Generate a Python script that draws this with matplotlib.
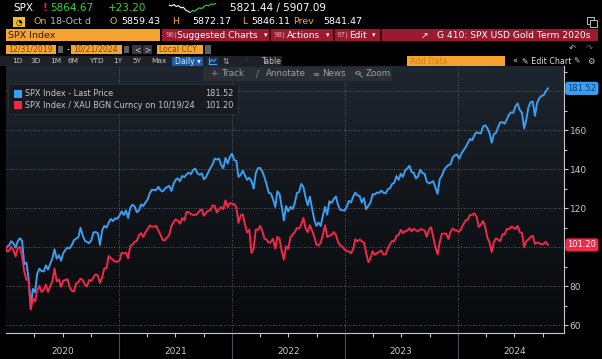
import matplotlib
matplotlib.use("Agg")
import matplotlib.pyplot as plt
import matplotlib.dates as mdates
from matplotlib.patches import Rectangle, Circle
from matplotlib.colors import LinearSegmentedColormap
from matplotlib.transforms import blended_transform_factory
import numpy as np
import pandas as pd

# weekly closes, rebased to 100 on 12/31/2019
spx = [100.0,
       100.1, 101.1, 103.1, 102.0, 99.8, 103.0, 104.6, 103.3, 91.4, 92.0, 83.9, 69.5, 78.6,
       77.0, 86.4, 89.0, 87.8, 87.6, 90.7, 88.6, 91.5, 94.2, 98.9, 94.1, 95.9, 93.1,
       96.9, 98.6, 99.8, 99.5, 101.2, 103.7, 104.4, 105.1, 110.0, 106.1, 103.4, 102.7, 102.1,
       103.6, 107.6, 107.8, 107.2, 101.2, 108.6, 111.0, 110.1, 112.6, 114.5, 113.4, 114.8, 114.6, 116.3,
       118.4, 116.6, 118.9, 115.0, 120.3, 121.8, 120.9, 118.0, 118.9, 122.0, 121.1, 123.0,
       124.4, 127.8, 129.5, 129.4, 129.4, 131.0, 129.2, 128.6, 130.1, 130.9, 131.5, 128.9, 132.5,
       134.7, 135.3, 133.9, 136.6, 136.0, 137.3, 138.3, 137.5, 139.6, 140.4, 138.0, 137.2, 137.9,
       134.9, 135.9, 138.4, 140.7, 142.5, 145.4, 145.0, 145.4, 142.2, 140.5, 145.8, 143.0, 146.3, 148.0,
       144.8, 144.3, 136.1, 137.2, 139.3, 136.8, 134.6, 135.7, 134.0, 130.1, 138.1, 140.6,
       140.7, 138.9, 136.0, 132.2, 127.9, 127.6, 124.5, 120.7, 128.7, 127.2, 120.7, 113.7, 121.1,
       118.4, 120.7, 119.6, 122.6, 127.8, 128.3, 132.5, 130.9, 125.6, 121.5, 125.9, 119.9, 114.3, 111.0,
       112.7, 110.9, 116.2, 120.7, 116.7, 123.6, 122.7, 124.6, 126.0, 121.8, 119.2, 119.0, 118.8,
       120.6, 123.8, 123.0, 126.0, 128.0, 126.6, 126.3, 122.9, 125.2, 119.5, 121.2, 122.9, 127.2,
       127.1, 128.1, 127.9, 129.0, 128.0, 127.6, 129.8, 130.2, 132.5, 133.1, 136.5, 134.6, 137.7,
       136.2, 139.4, 140.4, 141.8, 138.6, 138.2, 135.3, 136.4, 139.8, 138.0, 137.7, 133.7, 132.7,
       133.3, 133.9, 130.7, 127.4, 134.9, 136.7, 139.7, 141.1, 142.2, 142.5, 146.1, 147.2, 147.6,
       145.4, 148.1, 149.8, 151.4, 153.5, 155.6, 154.9, 157.5, 159.0, 158.6, 158.4, 162.0, 162.6,
       161.1, 158.6, 153.7, 157.9, 158.7, 161.7, 164.1, 164.2, 163.4, 165.5, 168.1, 169.2, 169.0,
       172.3, 173.8, 170.4, 169.0, 161.0, 165.4, 171.9, 174.4, 174.8, 167.4, 174.1, 176.5, 177.6,
       178.0, 180.0, 181.52]

spx_xau = [100.0,
           97.8, 98.2, 100.4, 98.5, 95.3, 99.5, 100.2, 95.4, 87.5, 83.4, 83.2, 68.0, 73.7,
           72.1, 77.9, 80.2, 77.1, 78.2, 80.8, 77.1, 80.0, 82.6, 89.1, 82.5, 83.5, 79.7,
           82.8, 83.2, 83.6, 79.4, 77.7, 77.3, 81.5, 82.2, 83.9, 83.2, 80.9, 79.9, 83.2,
           82.7, 84.6, 86.1, 85.5, 81.7, 84.4, 89.2, 89.3, 95.5, 94.5, 93.5, 92.6, 92.6, 93.1,
           97.1, 96.8, 97.2, 94.4, 100.7, 101.3, 102.8, 103.2, 106.2, 107.2, 105.3, 107.7,
           109.2, 111.2, 110.6, 110.5, 111.0, 108.5, 106.3, 103.7, 103.6, 105.0, 106.3, 110.9, 112.9,
           114.3, 113.5, 112.1, 115.0, 113.7, 118.1, 117.9, 117.1, 116.5, 116.6, 117.1, 118.7, 119.5,
           116.2, 117.7, 118.7, 119.0, 121.4, 121.3, 117.9, 119.5, 120.6, 119.5, 124.0, 120.6, 122.7, 122.3,
           122.2, 120.5, 112.5, 116.2, 116.9, 111.6, 107.6, 109.0, 97.0, 99.4, 109.1, 108.9,
           110.9, 108.3, 104.5, 103.9, 102.3, 102.8, 104.3, 99.2, 105.4, 104.3, 97.9, 93.7, 100.5,
           99.2, 105.1, 106.5, 107.7, 109.8, 109.6, 111.6, 115.0, 109.7, 107.7, 111.3, 108.6, 105.4, 101.4,
           100.9, 102.3, 106.4, 111.3, 105.3, 105.9, 106.3, 107.8, 106.4, 102.8, 100.9, 100.4, 98.8,
           98.1, 97.8, 96.9, 99.1, 104.1, 103.0, 104.0, 103.0, 102.3, 97.1, 92.4, 94.3, 98.0,
           96.1, 97.0, 97.6, 98.3, 96.3, 96.3, 99.3, 101.5, 103.2, 103.0, 105.8, 106.3, 108.9,
           107.3, 108.2, 108.6, 109.8, 108.2, 109.5, 108.7, 108.1, 109.3, 109.1, 108.6, 105.4, 108.9,
           110.3, 105.1, 100.1, 96.3, 102.7, 106.9, 107.0, 107.0, 104.2, 107.9, 109.7, 108.7, 108.5,
           107.9, 109.7, 112.0, 113.8, 114.2, 116.6, 116.7, 117.4, 115.8, 110.4, 111.5, 113.5, 110.6,
           104.9, 102.6, 97.5, 102.5, 104.6, 103.9, 103.1, 106.7, 106.5, 109.4, 109.3, 110.5, 110.2,
           109.3, 111.0, 107.7, 107.4, 100.0, 103.2, 104.0, 105.3, 105.9, 101.7, 102.4, 102.1, 101.4,
           101.8, 102.8, 101.20]

dates = [pd.Timestamp("2019-12-31")] + list(pd.date_range("2020-01-03", "2024-10-18", freq="W-FRI"))
years = [2020, 2021, 2022, 2023, 2024]
ytick_vals = [60, 80, 100, 120, 140, 160, 180]
ytick_text = ["60", "80", "", "120", "140", "160", ""]

spark_white = [6.5, 6.0, 7.0, 5.5, 6.2, 4.5, 5.0, 3.0, 2.0, 1.0]
spark_green = [1.0, 2.5, 2.0, 3.5, 4.5, 4.0, 5.5, 6.5, 6.0, 7.5, 7.0, 7.8]

BLUE = "#3a9ff0"
RED = "#f0284a"
ORANGE = "#f5a431"
BRED = "#9c1a30"
GREEN = "#3ccf3c"
GREY = "#c8c8c8"

W, H = 602, 359
fig = plt.figure(figsize=(6.02, 3.59), dpi=100, facecolor="black")


def fx(x):
    return x / W


def fy(y):
    return 1 - y / H


def txt(x, y, s, color="white", size=7, ha="left", **kw):
    fig.text(fx(x), fy(y), s, color=color, fontsize=size, ha=ha, va="center", **kw)


def box(x0, y0, x1, y1, color, ec="none", lw=0.6):
    fig.patches.append(Rectangle((fx(x0), fy(y1)), (x1 - x0) / W, (y1 - y0) / H,
                                 transform=fig.transFigure, facecolor=color,
                                 edgecolor=ec, linewidth=lw))


# ---- plot panel
rect = [fx(6), fy(333), (564 - 6) / W, (333 - 66) / H]
bg = fig.add_axes(rect, zorder=0)
cmap = LinearSegmentedColormap.from_list("panel", ["#08090b", "#12161b", "#1e262f"])
bg.imshow(np.linspace(0, 1, 256).reshape(-1, 1), cmap=cmap, aspect="auto",
          origin="lower", extent=[0, 1, 0, 1])
bg.axis("off")

ax = fig.add_axes(rect, zorder=1)
ax.set_facecolor("none")
ax.plot(dates, spx, color=BLUE, lw=1.4, zorder=3)
ax.plot(dates, spx_xau, color=RED, lw=1.4, zorder=4)

ax.set_xlim(pd.Timestamp("2019-12-31"), pd.Timestamp("2024-12-09"))
ax.set_ylim(56, 193)

for s in ["left", "top"]:
    ax.spines[s].set_visible(False)
for s in ["right", "bottom"]:
    ax.spines[s].set_color(GREY)
    ax.spines[s].set_linewidth(0.8)

ax.set_xticks([pd.Timestamp(f"{y}-01-01") for y in years[1:]])
ax.xaxis.set_minor_locator(mdates.MonthLocator(bymonth=[4, 7, 10]))
ax.tick_params(axis="x", which="major", length=26, width=0.8, color="#4a4e54",
               labelbottom=False)
ax.tick_params(axis="x", which="minor", length=3, width=0.8, color=GREY)

ax.set_yticks(ytick_vals)
ax.set_yticklabels(ytick_text)
ax.set_yticks(range(70, 191, 20), minor=True)
ax.yaxis.tick_right()
ax.tick_params(axis="y", which="major", length=3, width=0.8, color=GREY,
               labelcolor=GREY, labelsize=6.5, pad=1)
ax.tick_params(axis="y", which="minor", length=2, width=0.8, color=GREY)
ax.grid(True, which="major", color="#6b7078", linestyle=(0, (1, 2)), linewidth=0.6)

xy = blended_transform_factory(ax.transData, ax.transAxes)
for y in years:
    ax.text(pd.Timestamp(f"{y}-07-01"), -0.068, str(y), transform=xy, color=GREY,
            fontsize=6.5, ha="center", va="center")

ay = blended_transform_factory(ax.transAxes, ax.transData)
ax.text(1.032, spx[-1], f"{spx[-1]:.2f}", transform=ay, color="#123f73", fontsize=6,
        ha="center", va="center", clip_on=False,
        bbox=dict(boxstyle="round,pad=0.25,rounding_size=0.3", fc=BLUE, ec="none"))
ax.text(1.032, spx_xau[-1], f"{spx_xau[-1]:.2f}", transform=ay, color="white", fontsize=6,
        ha="center", va="center", clip_on=False,
        bbox=dict(boxstyle="round,pad=0.25,rounding_size=0.3", fc=RED, ec="none"))

# ---- legend
box(8, 84, 238, 114, "#171b20", ec="#2c3138")
box(14, 90, 22, 98, BLUE)
box(14, 101, 22, 109, RED)
txt(25, 94, "SPX Index - Last Price", GREY, 5.9)
txt(25, 105, "SPX Index / XAU BGN Curncy on 10/19/24", GREY, 5.9)
txt(233, 94, f"{spx[-1]:.2f}", GREY, 5.9, ha="right")
txt(233, 105, f"{spx_xau[-1]:.2f}", GREY, 5.9, ha="right")

# ---- toolbar over the chart
box(203, 67, 392, 81, "#2a2f36")
txt(210, 74, "+", "#8d939b", 6.5)
txt(221, 74, "Track", "#9aa0a8", 6.3)
txt(256, 74, "/", "#8d939b", 6)
txt(266, 74, "Annotate", "#9aa0a8", 6.3)
txt(312, 74, "≡", "#8d939b", 6)
txt(322, 74, "News", "#9aa0a8", 6.3)
# magnifier icon
fig.patches.append(Circle((fx(358), fy(73)), 2.3 / W, transform=fig.transFigure,
                          fill=False, edgecolor="#8d939b", linewidth=0.7))
fig.lines.append(plt.Line2D([fx(359.8), fx(362)], [fy(74.8), fy(77)],
                            transform=fig.transFigure, color="#8d939b", lw=0.8))
txt(366, 74, "Zoom", "#9aa0a8", 6.3)

# ---- header row 1
txt(13, 8, "SPX", "white", 7.5)
txt(42, 8, "!", "#e8213a", 7.5, fontweight="bold")
txt(50, 8, "5864.67", GREEN, 7.5)
txt(108, 8, "+23.20", GREEN, 7.5)
txt(230, 8, "5821.44 / 5907.09", "white", 7.5)
sp = fig.add_axes([fx(167), fy(13), 51 / W, 10 / H])
sp.plot(range(len(spark_white)), spark_white, color="white", lw=0.8)
sp.plot(range(len(spark_white) - 1, len(spark_white) - 1 + len(spark_green)), spark_green,
        color=GREEN, lw=0.8)
sp.axis("off")

# ---- header row 2
box(13, 17, 25, 27, "#f2c11c")
txt(19, 22, "◔", "black", 5.5, ha="center")
txt(33, 22, "On", ORANGE, 6.8)
txt(50, 22, "18-Oct d", "#b8b8b8", 6.8)
txt(110, 22, "O", ORANGE, 6.8)
txt(121, 22, "5859.43", "white", 6.8)
txt(172, 22, "H", ORANGE, 6.8)
txt(192, 22, "5872.17", "white", 6.8)
txt(242, 22, "L", ORANGE, 6.8)
txt(251, 22, "5846.11", "white", 6.8)
txt(293, 22, "Prev", ORANGE, 6.8)
txt(323, 22, "5841.47", "white", 6.8)
box(587, 17, 594, 24, "none", ec="#bbbbbb", lw=0.7)
box(590, 20, 597, 27, "#000000", ec="#bbbbbb", lw=0.7)

# ---- header row 3
box(6, 29, 160, 41, ORANGE)
txt(8, 35, "SPX Index", "#2a1a00", 6.8)
box(162, 29, 598, 41, BRED)
for sx in [269, 333, 380]:
    box(sx, 29, sx + 1.5, 41, "#3b0a14")
txt(165, 35, "96)", "#e4a3ae", 5)
txt(177, 35, "Suggested Charts", "white", 6.5)
txt(264, 35, "▾", "white", 5)
txt(274, 35, "98)", "#e4a3ae", 5)
txt(287, 35, "Actions", "white", 6.5)
txt(326, 35, "▾", "white", 5)
txt(337, 35, "97)", "#e4a3ae", 5)
txt(349, 35, "Edit", "white", 6.5)
txt(372, 35, "▾", "white", 5)
txt(421, 35, "↗", "white", 6.5)
txt(437, 35, "G 410: SPX USD Gold Term 2020s", "white", 6.6)

# ---- header row 4
box(6, 45, 56, 54, ORANGE)
txt(8, 49.5, "12/31/2019", "#8a4c00", 5.6)
box(58, 46, 63, 53, "#5c5f64")
txt(67, 49.5, "-", "white", 6)
box(71, 45, 122, 54, ORANGE)
txt(73, 49.5, "10/21/2024", "#8a4c00", 5.6)
box(124, 46, 129, 53, "#5c5f64")
box(132, 45, 142, 54, "#34373c")
box(143, 45, 152, 54, "#34373c")
txt(137, 49.5, "<", "#cccccc", 5.5, ha="center")
txt(147.5, 49.5, ">", "#cccccc", 5.5, ha="center")
box(157, 45, 203, 54, ORANGE)
txt(159, 49.5, "Local CCY", "#8a4c00", 5.6)
box(205, 45, 211, 54, "#5c5f64")
txt(572, 48, "↶", "#cccccc", 6, ha="center")
txt(589, 48, "↷", "#6a6d72", 6, ha="center")

# ---- header row 5
box(0, 56, 282, 66, "#1e2126")
for x, s in zip([12, 30, 50, 68, 89, 113, 132, 151],
                ["1D", "3D", "1M", "6M", "YTD", "1Y", "5Y", "Max"]):
    txt(x, 61, s, "#c8c8c8", 5.3)
box(172, 56.5, 203, 65.5, "#1d5aa8")
txt(175, 61, "Daily ▾", "#dfe9f7", 5.5)
box(207, 56.5, 218, 65.5, "#14325c")
fig.lines.append(plt.Line2D([fx(209), fx(209), fx(216)], [fy(58), fy(64), fy(64)],
                            transform=fig.transFigure, color="#5fa4ee", lw=0.7))
fig.lines.append(plt.Line2D([fx(210), fx(212), fx(214), fx(216)], [fy(62), fy(59.5), fy(61.5), fy(59)],
                            transform=fig.transFigure, color="#5fa4ee", lw=0.7))
txt(226, 61, "⇅", "#b0b0b0", 5.5, ha="center")
txt(245, 61, "·", "#b0b0b0", 6, ha="center")
txt(262, 61, "Table", "#c8c8c8", 5.5)
box(407, 56, 505, 66, ORANGE)
txt(410, 61, "Add Data", "#d27f14", 5.8)
txt(512, 61, "«", "#cccccc", 6)
txt(522, 61, "✎ Edit Chart", "#dddddd", 5.8)
txt(577, 61, "✎", "#cccccc", 5.8, ha="center")
txt(591, 61, "⚙", "#cccccc", 6, ha="center")

fig.savefig("out.png", dpi=100, facecolor="black")
